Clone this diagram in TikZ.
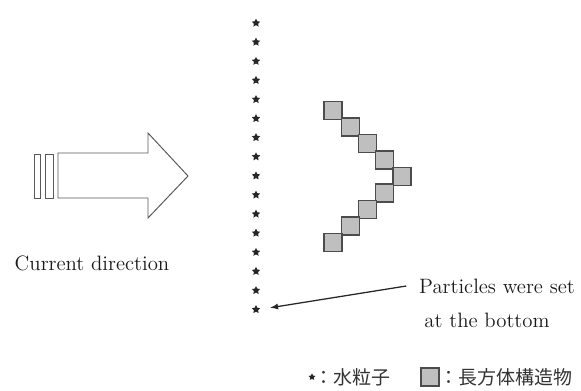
\documentclass[tikz,border=0pt]{standalone}
\usepackage{fontspec}
\newfontfamily\jpfont{Noto Sans CJK JP}
\usetikzlibrary{calc,shapes.geometric,positioning}

\begin{document}
\begin{tikzpicture}[x=0.025cm, y=-0.025cm,
	particle/.style={star, star points=5, star point ratio=2.0, fill=black!85, inner sep=0pt, minimum size=0.22cm},
	block/.style={rectangle, draw=black!70, fill=black!25, line width=0.8pt, inner sep=0pt, minimum size=0.45cm},
	outline/.style={draw=black!65, line width=0.7pt},
	txt/.style={font=\fontsize{14.8}{18}\selectfont, text=black!90},
	jptxt/.style={font=\jpfont\fontsize{13.5}{16}\selectfont, text=black!80, inner sep=0pt}]
	\useasboundingbox (0, 0) rectangle (581, 390);

	% current arrow
	\draw[outline] (34, 154) rectangle (40, 198);
	\draw[outline] (45, 154) rectangle (53, 198);
	\draw[outline] (58, 153) -- (148, 153) -- (148, 133) -- (188, 176) -- (148, 218) -- (148, 198) -- (58, 198) -- cycle;
	\node[txt] at (92, 263) (current) {Current direction};

	% water particles
	\node[particle] at (256, 23.0) (p1) {};
	\node[particle] at (256, 42.1) (p2) {};
	\node[particle] at (256, 61.2) (p3) {};
	\node[particle] at (256, 80.3) (p4) {};
	\node[particle] at (256, 99.4) (p5) {};
	\node[particle] at (256, 118.5) (p6) {};
	\node[particle] at (256, 137.6) (p7) {};
	\node[particle] at (256, 156.7) (p8) {};
	\node[particle] at (256, 175.8) (p9) {};
	\node[particle] at (256, 194.9) (p10) {};
	\node[particle] at (256, 214.0) (p11) {};
	\node[particle] at (256, 233.1) (p12) {};
	\node[particle] at (256, 252.2) (p13) {};
	\node[particle] at (256, 271.3) (p14) {};
	\node[particle] at (256, 290.4) (p15) {};
	\node[particle] at (256, 309.5) (p16) {};

	% rectangular blocks
	\node[block] at (333.0, 110.5) (b1) {};
	\node[block] at (350.3, 127.0) (b2) {};
	\node[block] at (367.5, 143.5) (b3) {};
	\node[block] at (384.8, 160.0) (b4) {};
	\node[block] at (402.0, 176.5) (b5) {};
	\node[block] at (384.8, 193.0) (b6) {};
	\node[block] at (367.5, 209.5) (b7) {};
	\node[block] at (350.3, 226.0) (b8) {};
	\node[block] at (333.0, 242.5) (b9) {};

	% note
	\node[txt] at (497, 286) (note1) {Particles were set};
	\node[txt] at (487, 320) (note2) {at the bottom};
	\coordinate (tail) at ($(note1.west) + (-8, 0)$);
	\draw[-latex, black!85, line width=0.9pt, shorten >=8pt] (tail) -- (p16.east);

	% legend
	\node[particle, minimum size=0.18cm] at (312, 377) (keyp) {};
	\node[jptxt, right=0pt of keyp] (keyptxt) {：水粒子};
	\node[block] at (430, 377) (keyb) {};
	\node[jptxt, right=0pt of keyb] (keybtxt) {：長方体構造物};
\end{tikzpicture}
\end{document}
